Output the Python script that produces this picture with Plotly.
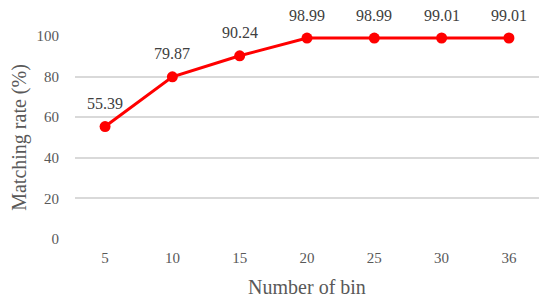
import plotly.graph_objects as go

bins = ["5", "10", "15", "20", "25", "30", "36"]
rate = [55.39, 79.87, 90.24, 98.99, 98.99, 99.01, 99.01]
labels = ["55.39", "79.87", "90.24", "98.99", "98.99", "99.01", "99.01"]

fig = go.Figure()
fig.add_trace(go.Scatter(
    x=bins, y=rate, mode="lines+markers",
    line=dict(color="#ff0000", width=3),
    marker=dict(color="#ff0000", size=11),
    cliponaxis=False,
))

# on a category axis annotation x is the category index
for i, (r, t) in enumerate(zip(rate, labels)):
    fig.add_annotation(x=i, y=r, text=t, showarrow=False, yshift=23,
                       font=dict(size=16, color="#404040"))

# page body adds an 8px offset, margins compensate for it
fig.update_layout(
    width=550, height=303,
    margin=dict(l=67, r=19, t=28, b=72),
    paper_bgcolor="white", plot_bgcolor="white",
    font=dict(family="Liberation Serif, Times New Roman, serif", color="#595959", size=15),
    showlegend=False,
)
fig.update_xaxes(
    type="category", showgrid=False, showline=False, zeroline=False,
    ticks="outside", ticklen=5, tickcolor="white",
    title=dict(text="Number of bin", font=dict(size=20), standoff=14),
)
fig.update_yaxes(
    range=[0, 100], dtick=20, showgrid=True, gridcolor="#d9d9d9", gridwidth=1.5,
    zeroline=False, showline=False, automargin=False,
    ticks="outside", ticklen=12, tickcolor="white",
    title=dict(text="Matching rate (%)", font=dict(size=20), standoff=9),
)

fig.write_html("out.html")
